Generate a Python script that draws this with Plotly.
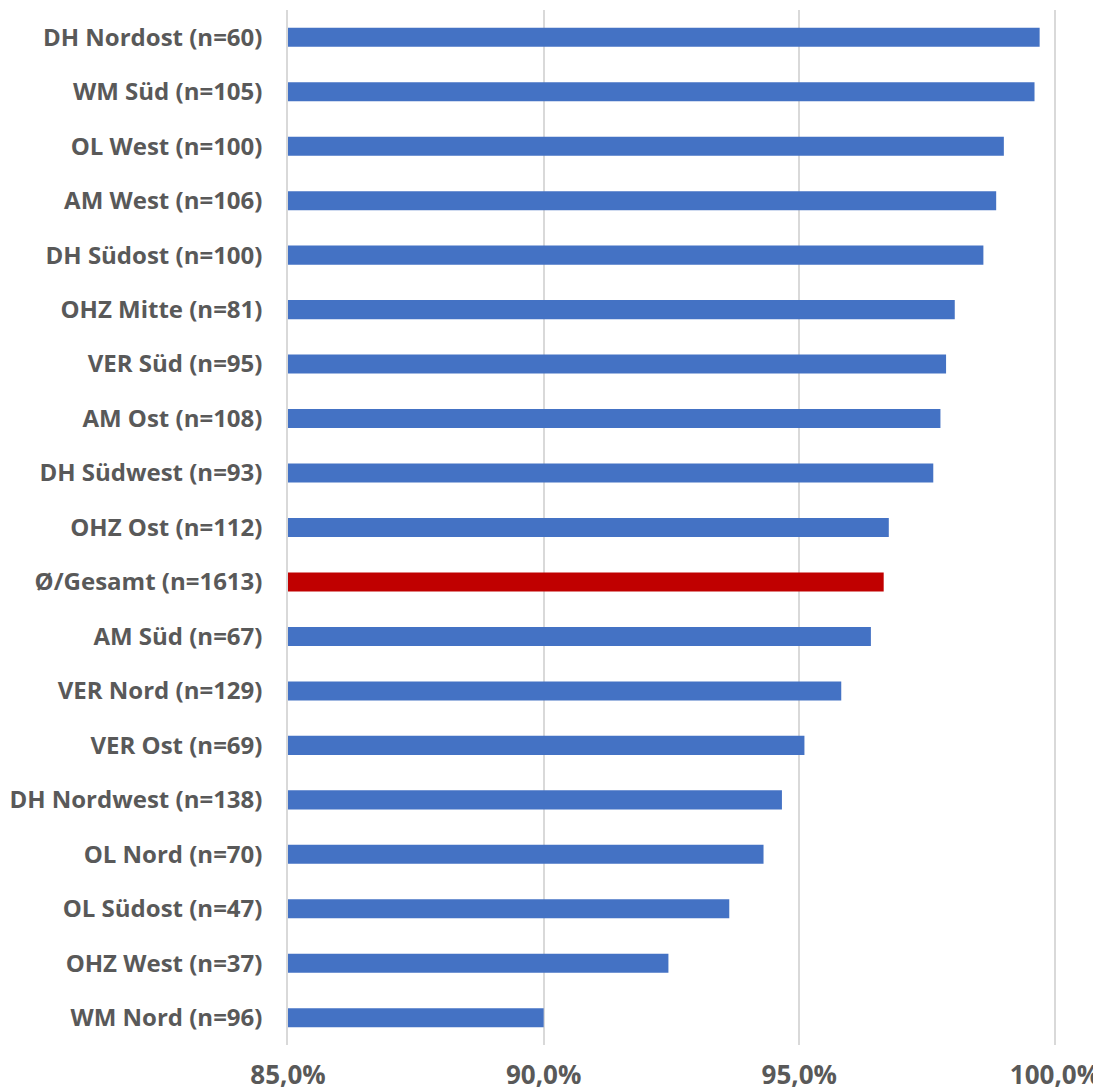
import plotly.graph_objects as go

# top to bottom as in the chart
regions = [
    "DH Nordost (n=60)", "WM Süd (n=105)", "OL West (n=100)", "AM West (n=106)",
    "DH Südost (n=100)", "OHZ Mitte (n=81)", "VER Süd (n=95)", "AM Ost (n=108)",
    "DH Südwest (n=93)", "OHZ Ost (n=112)", "Ø/Gesamt (n=1613)", "AM Süd (n=67)",
    "VER Nord (n=129)", "VER Ost (n=69)", "DH Nordwest (n=138)", "OL Nord (n=70)",
    "OL Südost (n=47)", "OHZ West (n=37)", "WM Nord (n=96)",
]
shares = [
    99.7, 99.6, 99.0, 98.85, 98.6, 98.04, 97.87, 97.76, 97.62, 96.75,
    96.65, 96.4, 95.82, 95.1, 94.66, 94.3, 93.63, 92.44, 90.0,
]
tick_vals = [85, 90, 95, 100]
tick_text = ["85,0%", "90,0%", "95,0%", "100,0%"]
x_min = 85

BLUE = "#4472C4"
RED = "#C00000"
TXT = "#595959"
GRID = "#D9D9D9"

colors = [RED if "Gesamt" in r else BLUE for r in regions]

# bars start at the axis minimum
fig = go.Figure(go.Bar(
    x=[v - x_min for v in shares],
    base=x_min,
    y=regions,
    orientation="h",
    marker=dict(color=colors, line=dict(width=0)),
))

# the page body adds an 8px margin, so the figure is 8px smaller each way
fig.update_layout(
    width=1093, height=1084,
    margin=dict(l=280, r=45, t=2, b=47),
    plot_bgcolor="white", paper_bgcolor="white",
    bargap=0.65,
    showlegend=False,
    font=dict(family="Open Sans", color=TXT),
)
fig.update_xaxes(
    range=[85, 100.02],
    tickvals=tick_vals, ticktext=tick_text,
    showgrid=True, gridcolor=GRID, gridwidth=1.5,
    zeroline=False, showline=False,
    tickfont=dict(size=26, family="Open Sans", color=TXT, weight="bold"),
    ticks="", ticklabelstandoff=12, automargin=False,
)
fig.update_yaxes(
    autorange="reversed",
    showgrid=False, zeroline=False,
    showline=True, linecolor=GRID, linewidth=1.5,
    tickfont=dict(size=24, family="Open Sans", color=TXT, weight="bold"),
    ticks="", ticklabelstandoff=19, automargin=False,
)

fig.write_html("out.html")
